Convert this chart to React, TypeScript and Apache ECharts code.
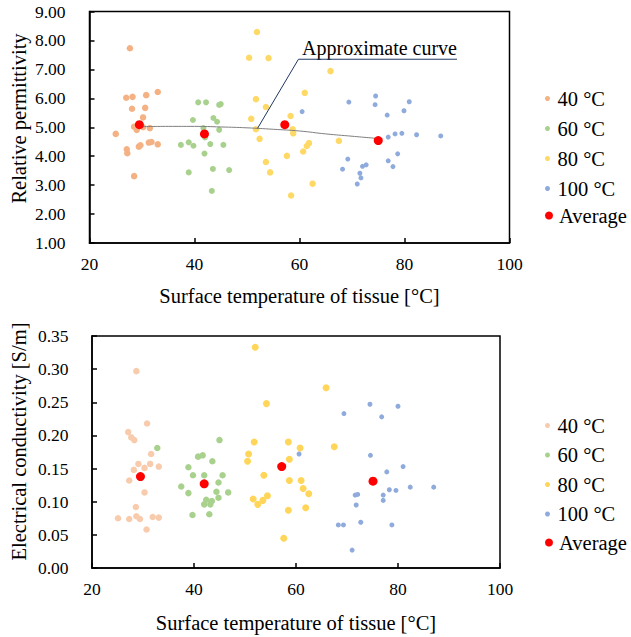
import React, { useEffect, useRef } from "react";
import * as echarts from "echarts";

const FONT = "'Liberation Serif', 'Times New Roman', Times, serif";

// Legend / series names
const groupNames = ["40 °C", "60 °C", "80 °C", "100 °C"];
const averageName = "Average";

// Axis settings
const xMin = 20;
const xMax = 100;
const xStep = 20;
const permMin = 1;
const permMax = 9;
const permStep = 1;
const condMin = 0;
const condMax = 0.35;
const condStep = 0.05;

const xTitle = "Surface temperature of tissue [°C]";
const permTitle = "Relative permittivity";
const condTitle = "Electrical conductivity [S/m]";

// ---- Relative permittivity (top) ----
const perm40: number[][] = [
  [27.7, 7.73], [27.0, 6.02], [28.2, 6.05], [30.8, 6.11], [33.0, 6.22], [28.1, 5.64],
  [30.6, 5.67], [30.2, 5.34], [28.5, 5.02], [29.0, 4.91], [30.2, 5.0], [31.5, 4.97],
  [25.0, 4.77], [27.1, 4.24], [27.2, 4.1], [29.4, 4.33], [29.7, 4.38], [31.3, 4.47],
  [31.8, 4.49], [33.0, 4.41], [28.5, 3.31],
];
const perm60: number[][] = [
  [40.7, 5.86], [42.2, 5.86], [44.7, 5.77], [45.0, 5.8], [39.7, 5.25], [43.6, 5.32],
  [44.3, 5.19], [41.7, 4.97], [42.0, 4.65], [44.7, 4.91], [37.4, 4.39], [38.9, 4.48],
  [39.8, 4.36], [43.0, 4.42], [45.5, 4.39], [41.9, 4.09], [38.9, 3.44], [43.5, 3.56],
  [46.6, 3.52], [43.3, 2.8],
];
const perm80: number[][] = [
  [51.9, 8.29], [50.4, 7.4], [54.1, 7.39], [51.7, 5.97], [53.6, 5.7], [61.0, 6.19],
  [50.8, 5.29], [58.3, 5.39], [51.7, 4.93], [52.4, 4.6], [58.7, 4.93], [58.8, 4.79],
  [61.8, 4.45], [61.4, 4.35], [60.7, 4.16], [57.6, 4.01], [53.6, 3.8], [54.4, 3.44],
  [58.4, 2.64], [62.5, 3.05], [65.9, 6.94], [67.5, 4.53],
];
const perm100: number[][] = [
  [60.5, 5.54], [69.4, 5.87], [74.5, 6.08], [74.4, 5.78], [80.9, 5.88], [79.9, 5.57],
  [76.7, 5.42], [76.9, 4.66], [78.2, 4.77], [79.5, 4.79], [82.3, 4.74], [86.9, 4.7],
  [78.7, 4.08], [76.9, 3.84], [77.8, 3.64], [69.2, 3.9], [68.2, 3.55], [72.0, 3.65],
  [72.7, 3.7], [71.5, 3.41], [71.7, 3.25], [71.0, 3.04],
];
const permAvg: number[][] = [[29.5, 5.09], [41.9, 4.77], [57.2, 5.09], [75.0, 4.54]];

// Approximate curve
const curveX = [29.5, 35, 40, 45, 50, 55, 60, 65, 70, 75];
const curveY = [5.02, 5.03, 5.03, 5.01, 4.98, 4.93, 4.87, 4.77, 4.69, 4.61];

// Leader line of the annotation (data coordinates)
const leaderPts: number[][] = [[52, 4.96], [59.8, 7.35], [90, 7.35]];
const leaderText = "Approximate curve";

// ---- Electrical conductivity (bottom) ----
const cond40: number[][] = [
  [28.7, 0.297], [30.8, 0.218], [27.1, 0.205], [27.7, 0.197], [28.3, 0.193], [31.6, 0.172],
  [29.1, 0.157], [30.3, 0.151], [31.4, 0.157], [33.1, 0.153], [28.2, 0.148], [27.3, 0.132],
  [30.3, 0.114], [28.6, 0.092], [25.1, 0.075], [27.3, 0.074], [28.7, 0.078], [29.4, 0.074],
  [31.9, 0.077], [33.1, 0.076], [30.7, 0.058],
];
const cond60: number[][] = [
  [32.8, 0.181], [45.0, 0.193], [40.8, 0.168], [41.7, 0.17], [43.6, 0.161], [38.9, 0.152],
  [39.8, 0.14], [42.0, 0.14], [45.6, 0.14], [44.8, 0.129], [37.5, 0.123], [38.9, 0.113],
  [44.4, 0.115], [46.7, 0.114], [42.4, 0.103], [43.5, 0.101], [44.8, 0.106], [42.0, 0.096],
  [43.2, 0.096], [39.7, 0.08], [43.0, 0.081],
];
const cond80: number[][] = [
  [52.0, 0.333], [54.2, 0.248], [51.8, 0.19], [50.7, 0.172], [50.5, 0.161], [53.7, 0.14],
  [58.5, 0.19], [60.8, 0.181], [58.7, 0.164], [58.7, 0.132], [61.0, 0.132], [61.4, 0.12],
  [62.5, 0.112], [51.6, 0.104], [52.5, 0.096], [53.5, 0.102], [54.4, 0.109], [58.5, 0.087],
  [61.9, 0.091], [57.6, 0.045], [65.9, 0.272], [67.5, 0.183],
];
const cond100: number[][] = [
  [60.6, 0.172], [69.4, 0.233], [74.5, 0.247], [76.8, 0.228], [80.0, 0.244], [74.6, 0.17],
  [81.0, 0.153], [77.8, 0.145], [78.3, 0.118], [79.6, 0.117], [82.4, 0.122], [87.0, 0.122],
  [77.1, 0.11], [77.1, 0.102], [71.6, 0.11], [72.1, 0.111], [71.8, 0.095], [68.3, 0.065],
  [69.3, 0.065], [72.7, 0.069], [78.8, 0.065], [71.0, 0.027],
];
const condAvg: number[][] = [[29.5, 0.138], [42.0, 0.127], [57.2, 0.153], [75.1, 0.131]];

// Colours
const topColors = ["#F4B183", "#A9D18E", "#FFD966", "#8FAADC"];
const bottomColors = ["#F8CBAD", "#A9D18E", "#FFD659", "#8FAADC"];
const avgColor = "#FF0000";
const topSizes = [6.5, 6, 6.5, 5];
const bottomSizes = [6.5, 6.5, 7, 5];

export default function App() {
  const ref = useRef<HTMLDivElement>(null);

  useEffect(() => {
    if (!ref.current) return;
    const chart = echarts.init(ref.current, undefined, { renderer: "svg" });

    const axisLine = { show: true, lineStyle: { color: "#000", width: 1.5 } };
    const axisTick = { show: true, inside: true, length: 5, lineStyle: { color: "#000", width: 1.5 } };
    const tickFont = { fontSize: 17.5, color: "#000", fontFamily: FONT };
    const titleFont = { fontSize: 20.5, color: "#000", fontFamily: FONT };

    const makeX = (gridIndex: number) => ({
      gridIndex,
      type: "value",
      min: xMin,
      max: xMax,
      interval: xStep,
      axisLine,
      axisTick,
      splitLine: { show: false },
      axisLabel: { ...tickFont, margin: 11.5 },
      name: xTitle,
      nameLocation: "middle",
      nameGap: gridIndex === 0 ? 42 : 44,
      nameTextStyle: titleFont,
    });

    const groupsTop = [perm40, perm60, perm80, perm100];
    const groupsBottom = [cond40, cond60, cond80, cond100];

    const series: any[] = [];
    groupsTop.forEach((d, i) => {
      series.push({
        name: groupNames[i],
        type: "scatter",
        xAxisIndex: 0,
        yAxisIndex: 0,
        data: d,
        symbolSize: topSizes[i],
        itemStyle: { color: topColors[i], opacity: 1 },
        z: 2,
      });
    });
    series.push({
      name: "curve",
      type: "line",
      xAxisIndex: 0,
      yAxisIndex: 0,
      data: curveX.map((x, i) => [x, curveY[i]]),
      smooth: true,
      showSymbol: false,
      silent: true,
      lineStyle: { color: "#7F7F7F", width: 1 },
      z: 3,
    });
    series.push({
      name: "leader",
      type: "line",
      xAxisIndex: 0,
      yAxisIndex: 0,
      data: leaderPts,
      showSymbol: false,
      silent: true,
      lineStyle: { color: "#203864", width: 1 },
      z: 3,
    });
    series.push({
      name: averageName,
      type: "scatter",
      xAxisIndex: 0,
      yAxisIndex: 0,
      data: permAvg,
      symbolSize: 9,
      itemStyle: { color: avgColor, opacity: 1 },
      z: 4,
    });
    groupsBottom.forEach((d, i) => {
      series.push({
        name: groupNames[i],
        type: "scatter",
        xAxisIndex: 1,
        yAxisIndex: 1,
        data: d,
        symbolSize: bottomSizes[i],
        itemStyle: { color: bottomColors[i], opacity: 1 },
        z: 2,
      });
    });
    series.push({
      name: averageName,
      type: "scatter",
      xAxisIndex: 1,
      yAxisIndex: 1,
      data: condAvg,
      symbolSize: 9,
      itemStyle: { color: avgColor, opacity: 1 },
      z: 4,
    });

    const legendBase = {
      orient: "vertical",
      left: 545,
      itemWidth: 10,
      icon: "circle",
      padding: 0,
      selectedMode: false,
      textStyle: { fontSize: 20.5, color: "#000", fontFamily: FONT },
    };

    const option: any = {
      animation: false,
      backgroundColor: "#fff",
      grid: [
        { left: 89.5, top: 11.5, width: 420, height: 231.5, show: true, borderColor: "#000", borderWidth: 1.5 },
        { left: 92, top: 336, width: 408, height: 232, show: true, borderColor: "#000", borderWidth: 1.5 },
      ],
      xAxis: [makeX(0), makeX(1)],
      yAxis: [
        {
          gridIndex: 0,
          type: "value",
          min: permMin,
          max: permMax,
          interval: permStep,
          axisLine,
          axisTick,
          splitLine: { show: false },
          axisLabel: { ...tickFont, margin: 24, formatter: (v: number) => v.toFixed(2) },
        },
        {
          gridIndex: 1,
          type: "value",
          min: condMin,
          max: condMax,
          interval: condStep,
          axisLine,
          axisTick,
          splitLine: { show: false },
          axisLabel: { ...tickFont, margin: 23.5, formatter: (v: number) => v.toFixed(2) },
        },
      ],
      legend: [
        {
          ...legendBase,
          top: 88,
          itemHeight: 5,
          itemGap: 9,
          data: groupNames.map((n, i) => ({ name: n, itemStyle: { color: topColors[i] } })),
        },
        {
          ...legendBase,
          top: 205,
          itemHeight: 8,
          data: [{ name: averageName, itemStyle: { color: avgColor } }],
        },
        {
          ...legendBase,
          top: 415,
          itemHeight: 5,
          itemGap: 8.5,
          data: groupNames.map((n, i) => ({ name: n, itemStyle: { color: bottomColors[i] } })),
        },
        {
          ...legendBase,
          top: 532,
          itemHeight: 8,
          data: [{ name: averageName, itemStyle: { color: avgColor } }],
        },
      ],
      series,
    };

    chart.setOption(option);

    const endPx = chart.convertToPixel({ gridIndex: 0 }, leaderPts[2]) as number[];
    chart.setOption({
      graphic: [
        {
          type: "text",
          x: 18.5,
          y: 118.5,
          rotation: Math.PI / 2,
          style: {
            text: permTitle,
            align: "center",
            verticalAlign: "middle",
            fill: "#000",
            font: `20.5px ${FONT}`,
          },
        },
        {
          type: "text",
          x: 19,
          y: 441.5,
          rotation: Math.PI / 2,
          style: {
            text: condTitle,
            align: "center",
            verticalAlign: "middle",
            fill: "#000",
            font: `20.5px ${FONT}`,
          },
        },
        {
          type: "text",
          x: endPx[0],
          y: endPx[1] - 1,
          style: {
            text: leaderText,
            align: "right",
            verticalAlign: "bottom",
            fill: "#000",
            font: `20px ${FONT}`,
          },
        },
      ],
    });

    return () => {
      chart.dispose();
    };
  }, []);

  return (
    <div
      ref={ref}
      style={{ position: "absolute", left: 0, top: 0, width: 631, height: 637, background: "#fff" }}
    />
  );
}
